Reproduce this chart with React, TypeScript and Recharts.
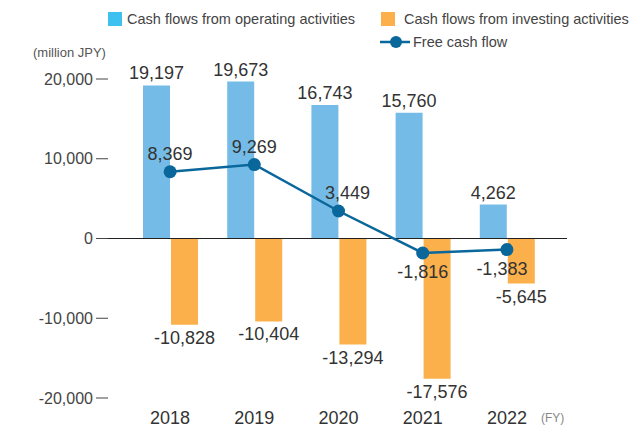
import React from 'react';
import { ComposedChart, Bar, Line, XAxis, YAxis, ReferenceLine, LabelList } from 'recharts';

const YEARS = ['2018', '2019', '2020', '2021', '2022'];
const OPERATING = [19197, 19673, 16743, 15760, 4262];
const INVESTING = [-10828, -10404, -13294, -17576, -5645];
const FREE_CF = [8369, 9269, 3449, -1816, -1383];
const Y_TICKS = [-20000, -10000, 0, 10000, 20000];

const BLUE_BAR = '#74BCE7';
const BLUE_SWATCH = '#3EC1EF';
const ORANGE = '#FBB04B';
const LINE_BLUE = '#0A679B';
const TEXT = '#333';
const FONT = '"Liberation Sans", Arial, Helvetica, sans-serif';

const data = YEARS.map((year, i) => ({
  year,
  operating: OPERATING[i],
  investing: INVESTING[i],
  free: FREE_CF[i],
}));

const fmt = (v: number) => v.toLocaleString('en-US');

const YTick = ({ x, y, payload }: any) => (
  <g>
    <text x={x - 3} y={y} textAnchor="end" dominantBaseline="central" fontSize={16} fill="#444" fontFamily={FONT}>
      {fmt(payload.value)}
    </text>
    <line x1={x} x2={x + 12} y1={y} y2={y} stroke="#444" strokeWidth={1} />
  </g>
);

const XTick = ({ x, y, payload }: any) => (
  <text x={x} y={y + 20} textAnchor="middle" dominantBaseline="central" fontSize={18} fill={TEXT} fontFamily={FONT}>
    {payload.value}
  </text>
);

const BarValueLabel = (props: any) => {
  const { x, y, width, height, value } = props;
  const top = Math.min(y, y + height);
  const bottom = Math.max(y, y + height);
  const ty = value >= 0 ? top - 12 : bottom + 13;
  return (
    <text x={x + width / 2} y={ty} textAnchor="middle" dominantBaseline="central" fontSize={18} fill={TEXT} fontFamily={FONT}>
      {fmt(value)}
    </text>
  );
};

// the 2020 label sits a little right of its point so it clears the line
const LineValueLabel = (props: any) => {
  const { x, y, value, index } = props;
  const ty = value >= 0 ? y - 18 : y + 19;
  const dx = index === 2 ? 9 : index === 4 ? -5 : 0;
  return (
    <text x={x + dx} y={ty} textAnchor="middle" dominantBaseline="central" fontSize={18} fill={TEXT} fontFamily={FONT}>
      {fmt(value)}
    </text>
  );
};

const legendText: React.CSSProperties = {
  position: 'absolute',
  fontFamily: FONT,
  fontSize: 14.5,
  color: '#444',
  whiteSpace: 'nowrap',
  lineHeight: '16px',
};

export default function App() {
  return (
    <div style={{ position: 'absolute', left: 0, top: 0, width: 631, height: 430, background: '#fff', overflow: 'hidden' }}>
      <ComposedChart
        width={631}
        height={430}
        data={data}
        margin={{ top: 79, right: 64, bottom: 0, left: 0 }}
        barSize={27}
        barGap={1}
      >
        <XAxis
          dataKey="year"
          height={32}
          axisLine={false}
          tickLine={false}
          tickSize={0}
          tickMargin={0}
          padding={{ left: 32, right: 18 }}
          tick={<XTick />}
          interval={0}
        />
        <YAxis
          width={96}
          domain={[-20000, 20000]}
          ticks={Y_TICKS}
          axisLine={false}
          tickLine={false}
          tickSize={0}
          tickMargin={0}
          tick={<YTick />}
          interval={0}
        />
        <Bar dataKey="operating" fill={BLUE_BAR} isAnimationActive={false}>
          <LabelList dataKey="operating" content={<BarValueLabel />} />
        </Bar>
        <Bar dataKey="investing" fill={ORANGE} isAnimationActive={false}>
          <LabelList dataKey="investing" content={<BarValueLabel />} />
        </Bar>
        <ReferenceLine y={0} stroke="#222" strokeWidth={1} />
        <Line
          dataKey="free"
          stroke={LINE_BLUE}
          strokeWidth={2.5}
          dot={{ r: 6.5, fill: LINE_BLUE, stroke: 'none' }}
          activeDot={false}
          isAnimationActive={false}
        >
          <LabelList dataKey="free" content={<LineValueLabel />} />
        </Line>
      </ComposedChart>

      <div style={{ position: 'absolute', left: 108, top: 12, width: 14, height: 14, background: BLUE_SWATCH }} />
      <div style={{ ...legendText, left: 127, top: 11 }}>Cash flows from operating activities</div>
      <div style={{ position: 'absolute', left: 381, top: 12, width: 14, height: 14, background: ORANGE }} />
      <div style={{ ...legendText, left: 404, top: 11 }}>Cash flows from investing activities</div>
      <svg style={{ position: 'absolute', left: 378, top: 34 }} width={34} height={16}>
        <line x1={2} x2={32} y1={8} y2={8} stroke={LINE_BLUE} strokeWidth={2.5} />
        <circle cx={18} cy={8} r={6} fill={LINE_BLUE} />
      </svg>
      <div style={{ ...legendText, left: 413, top: 34 }}>Free cash flow</div>

      <div style={{ position: 'absolute', left: 33, top: 45, fontFamily: FONT, fontSize: 13, color: '#555', lineHeight: '16px', whiteSpace: 'nowrap' }}>
        (million JPY)
      </div>
      <div style={{ position: 'absolute', left: 541, top: 411, fontFamily: FONT, fontSize: 12, color: '#888', lineHeight: '14px', whiteSpace: 'nowrap' }}>
        (FY)
      </div>
    </div>
  );
}
